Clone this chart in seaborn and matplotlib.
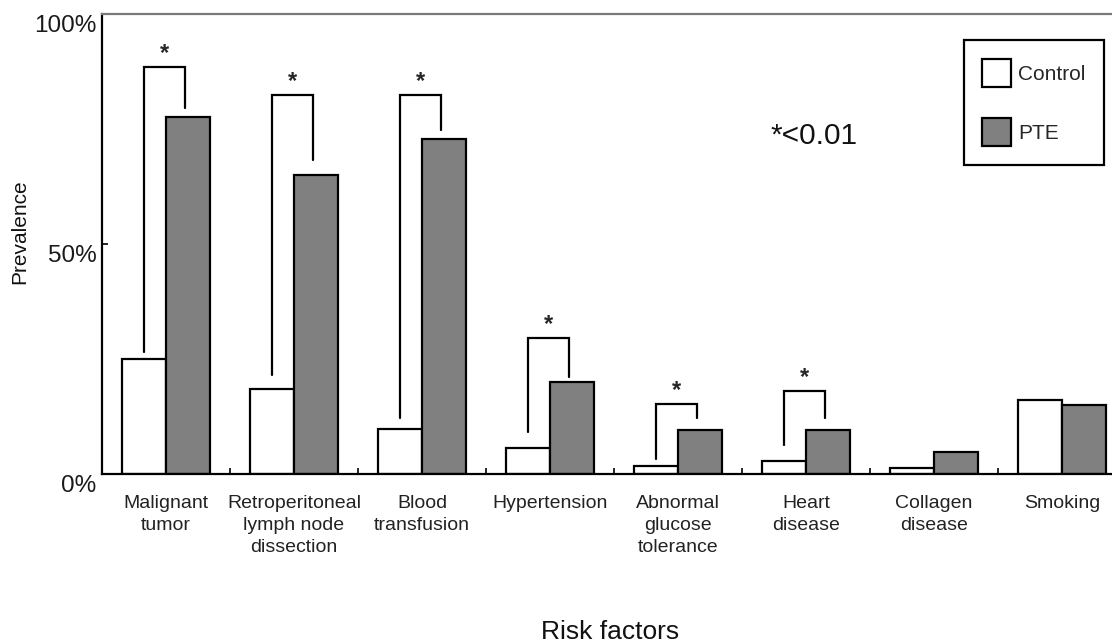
import matplotlib
matplotlib.use("Agg")
import matplotlib.pyplot as plt
from matplotlib.transforms import ScaledTranslation
from matplotlib.ticker import FixedLocator
import seaborn as sns
import pandas as pd

categories = ["Malignant\ntumor", "Retroperitoneal\nlymph node\ndissection",
              "Blood\ntransfusion", "Hypertension", "Abnormal\nglucose\ntolerance",
              "Heart\ndisease", "Collagen\ndisease", "Smoking"]
groups = ["Control", "PTE"]
control = [25.0, 18.5, 9.8, 5.7, 1.7, 2.8, 1.3, 16.0]
pte = [77.6, 65.0, 72.8, 20.0, 9.6, 9.6, 4.8, 15.0]
yticks = [0, 50, 100]
ytick_labels = ["0%", "50%", "100%"]

# significance brackets (category index, bracket top, left leg end, right leg end) in %
sig_index = [0, 1, 2, 3, 4, 5]
sig_top = [88.5, 82.4, 82.4, 29.6, 15.2, 18.0]
sig_left_end = [26.5, 21.5, 12.2, 9.1, 3.3, 6.3]
sig_right_end = [79.6, 68.3, 74.8, 21.1, 12.2, 12.2]

sns.set_style("white")
plt.rcParams["font.family"] = ["Liberation Sans", "DejaVu Sans"]

df = pd.DataFrame({
    "Risk factors": categories * 2,
    "Group": ["Control"] * len(categories) + ["PTE"] * len(categories),
    "Prevalence": control + pte,
})

fig = plt.figure(figsize=(11.12, 6.44), dpi=100)
ax = fig.add_axes([102 / 1112, 170 / 644, 1024 / 1112, 460 / 644])

sns.barplot(data=df, x="Risk factors", y="Prevalence", hue="Group",
            order=categories, hue_order=groups,
            palette={"Control": "white", "PTE": "#808080"},
            edgecolor="black", linewidth=1.6, width=0.6875, gap=0,
            errorbar=None, ax=ax, legend=True)

ax.set_xlim(-0.5, len(categories) - 0.5)
ax.set_ylim(0, 100)

# spines
for s in ["left", "bottom"]:
    ax.spines[s].set_color("black")
    ax.spines[s].set_linewidth(1.6)
ax.spines["top"].set_color("#7a7a7a")
ax.spines["top"].set_linewidth(1.6)
ax.spines["right"].set_visible(True)
ax.spines["right"].set_color("black")

# y axis
ax.set_yticks(yticks)
ax.set_yticklabels(ytick_labels, fontsize=17.5)
ax.tick_params(axis="y", direction="in", length=4, width=1.2, pad=4, left=True, colors="black")
off = ScaledTranslation(0, -9 / 100, fig.dpi_scale_trans)
for lab in ax.get_yticklabels():
    lab.set_transform(lab.get_transform() + off)
    lab.set_color("#1a1a1a")

# x axis
ax.tick_params(axis="x", which="major", length=0, pad=15, labelsize=14, labelcolor="#222222")
ax.xaxis.set_minor_locator(FixedLocator([i + 0.5 for i in range(len(categories) - 1)]))
ax.tick_params(axis="x", which="minor", direction="in", length=4, width=1.2, bottom=True, color="black")
for lab in ax.get_xticklabels():
    lab.set_linespacing(1.4)

ax.set_xlabel("Risk factors", fontsize=19, va="center", color="#111111")
ax.xaxis.set_label_coords((610 - 102) / 1024, -(632 - 474) / 460)
ax.set_ylabel("Prevalence", fontsize=15, va="center", color="#111111")
ax.yaxis.set_label_coords((20 - 102) / 1024, (474 - 232) / 460)

# significance brackets
for i, top, le, re in zip(sig_index, sig_top, sig_left_end, sig_right_end):
    xl, xr = i - 0.17, i + 0.15
    ax.plot([xl, xl, xr, xr], [le, top, top, re], color="black", lw=1.6,
            solid_joinstyle="miter", clip_on=False)
    ax.annotate("*", xy=((xl + xr) / 2, top), xytext=(0, 1.5), textcoords="offset points",
                ha="center", va="bottom", fontsize=17, fontweight="bold")

ax.text((814 - 102) / 1024, (474 - 136) / 460, "*<0.01", transform=ax.transAxes,
        ha="center", va="center", fontsize=21.5, color="#111111")

handles, labels = ax.get_legend_handles_labels()
leg = ax.legend(handles, labels, loc="upper right",
                bbox_to_anchor=(1104 / 1112, 1 - 40 / 644), bbox_transform=fig.transFigure,
                fontsize=15, frameon=True, fancybox=False, framealpha=1,
                edgecolor="black", handlelength=1.35, handleheight=1.7,
                labelspacing=1.5, handletextpad=0.35, borderpad=0.9, borderaxespad=0)
leg.get_frame().set_linewidth(1.6)
for h in leg.legend_handles:
    h.set_edgecolor("black")
    h.set_linewidth(1.6)

fig.savefig("out.png", dpi=100)
